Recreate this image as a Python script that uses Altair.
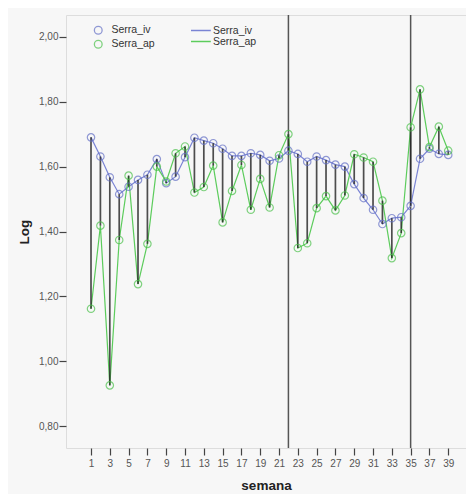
import altair as alt
import pandas as pd

weeks = list(range(1, 40))
serra_iv = [1.69, 1.631, 1.567, 1.515, 1.538, 1.559, 1.575, 1.623, 1.549, 1.569,
            1.629, 1.689, 1.68, 1.672, 1.655, 1.633, 1.633, 1.641, 1.636, 1.618,
            1.625, 1.649, 1.639, 1.615, 1.631, 1.62, 1.606, 1.60, 1.546, 1.503,
            1.467, 1.423, 1.441, 1.444, 1.479, 1.624, 1.655, 1.639, 1.636]
serra_ap = [1.162, 1.418, 0.926, 1.374, 1.572, 1.238, 1.362, 1.60, 1.554, 1.641,
            1.662, 1.52, 1.537, 1.603, 1.428, 1.525, 1.605, 1.467, 1.562, 1.474,
            1.635, 1.70, 1.349, 1.364, 1.472, 1.509, 1.465, 1.511, 1.638, 1.628,
            1.615, 1.495, 1.318, 1.395, 1.721, 1.838, 1.66, 1.723, 1.649]
ref_weeks = [22, 35]
series_names = ["Serra_iv", "Serra_ap"]
x_ticks = list(range(1, 40, 2))
y_ticks = [0.8, 1.0, 1.2, 1.4, 1.6, 1.8, 2.0]

wide = pd.DataFrame({"semana": weeks, "iv": serra_iv, "ap": serra_ap})
long = pd.concat([
    pd.DataFrame({"semana": weeks, "Log": serra_iv, "serie": "Serra_iv"}),
    pd.DataFrame({"semana": weeks, "Log": serra_ap, "serie": "Serra_ap"}),
])
refs = pd.DataFrame({"semana": ref_weeks})

blue = "#6470c6"
green = "#4cc24c"

xscale = alt.Scale(domain=[-1.66, 40.89], nice=False, zero=False)
yscale = alt.Scale(domain=[0.733, 2.067], nice=False, zero=False)

xaxis = alt.Axis(values=x_ticks, tickCount=40, grid=False, domain=False,
                 tickColor="#444", tickSize=7, tickWidth=1.2, labelFontSize=10,
                 labelColor="#555", labelPadding=3, title="semana",
                 titleFontSize=13.5, titleFontWeight="bold", titleColor="#222",
                 titlePadding=10, labelFlush=False, labelOverlap=False)
yaxis = alt.Axis(values=y_ticks, tickCount=20, grid=False, domain=False,
                 tickColor="#444", tickSize=7, tickWidth=1.2, labelFontSize=10,
                 labelColor="#555", labelPadding=1,
                 labelExpr="replace(format(datum.value, '.2f'), '.', ',')",
                 title="Log", titleFontSize=13.5, titleFontWeight="bold",
                 titleColor="#222", titlePadding=7)

base_x = alt.X("semana:Q", scale=xscale, axis=xaxis)

ref_rules = alt.Chart(refs).mark_rule(color="#555", strokeWidth=1.5).encode(
    x=alt.X("semana:Q", scale=xscale, axis=xaxis)
)

lines = alt.Chart(long).mark_line(strokeWidth=1.2).encode(
    x=base_x,
    y=alt.Y("Log:Q", scale=yscale, axis=yaxis),
    stroke=alt.Stroke("serie:N",
                      scale=alt.Scale(domain=series_names, range=["#7a84d4", "#5ccc5c"]),
                      legend=alt.Legend(title=None, orient="none", legendX=124,
                                        legendY=10, symbolType="M-1,0L3.4,0",
                                        symbolSize=81, symbolStrokeWidth=1.5,
                                        labelFontSize=10.5, labelColor="#333",
                                        labelFont="Liberation Sans",
                                        labelOffset=12, rowPadding=0, padding=0)),
    detail="serie:N",
)

drops = alt.Chart(wide).mark_rule(color="#222", strokeWidth=1.7, opacity=0.8).encode(
    x=alt.X("semana:Q", scale=xscale),
    y=alt.Y("iv:Q", scale=yscale),
    y2="ap:Q",
)

points = alt.Chart(long).mark_point(shape="circle", filled=False, size=55,
                                    strokeWidth=1.2).encode(
    x=alt.X("semana:Q", scale=xscale),
    y=alt.Y("Log:Q", scale=yscale),
    color=alt.Color("serie:N",
                    scale=alt.Scale(domain=series_names, range=[blue, green]),
                    legend=alt.Legend(title=None, orient="none", legendX=27,
                                      legendY=10, symbolType="circle",
                                      symbolSize=60, symbolStrokeWidth=1.3,
                                      symbolFillColor="transparent",
                                      labelFontSize=10.5, labelColor="#333",
                                      labelFont="Liberation Sans",
                                      labelOffset=8, rowPadding=0, padding=0)),
)

chart = alt.layer(ref_rules, lines, drops, points).resolve_scale(
    color="independent", stroke="independent"
).properties(
    width=400, height=433,
    autosize=alt.AutoSizeParams(type="none"),
    padding={"left": 58, "top": 7, "right": 0, "bottom": 46},
    background="#f7f7f7",
).configure_view(
    fill="#f0f0f0", stroke="#555", strokeWidth=1.5
).configure(font="Liberation Sans")

chart.save("out.html", embed_options={"renderer": "svg", "actions": False})
